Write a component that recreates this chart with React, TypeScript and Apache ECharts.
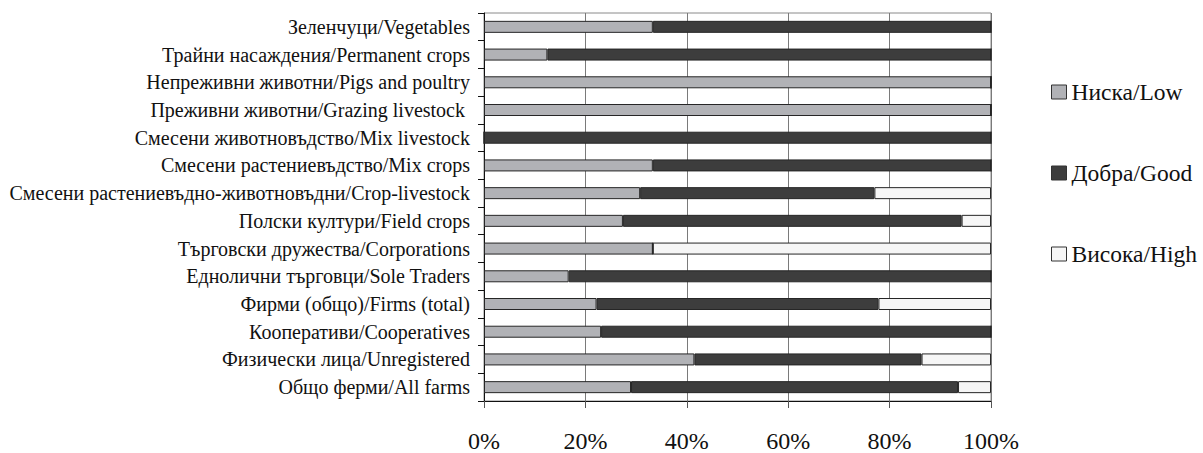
import React, { useEffect, useRef } from "react";
import * as echarts from "echarts";

const categories = [
  "Зеленчуци/Vegetables",
  "Трайни насаждения/Permanent crops",
  "Непреживни животни/Pigs and poultry",
  "Преживни животни/Grazing livestock\u00a0",
  "Смесени животновъдство/Mix livestock",
  "Смесени растениевъдство/Mix crops",
  "Смесени растениевъдно-животновъдни/Crop-livestock",
  "Полски култури/Field crops",
  "Търговски дружества/Corporations",
  "Еднолични търговци/Sole Traders",
  "Фирми (общо)/Firms (total)",
  "Кооперативи/Cooperatives",
  "Физически лица/Unregistered",
  "Общо ферми/All farms",
];

const lowValues = [33.3, 12.5, 100, 100, 0, 33.3, 30.8, 27.4, 33.3, 16.7, 22.2, 23.1, 41.5, 29.0];
const goodValues = [66.7, 87.5, 0, 0, 100, 66.7, 46.2, 66.8, 0, 83.3, 55.6, 76.9, 44.8, 64.5];
const highValues = [0, 0, 0, 0, 0, 0, 23.0, 5.8, 66.7, 0, 22.2, 0, 13.7, 6.5];

const seriesNames = ["Ниска/Low", "Добра/Good", "Висока/High"];
const seriesColors = ["#b1b2b6", "#3d3d3d", "#f6f6f6"];

const FONT = "'Liberation Serif', 'Times New Roman', serif";

export default function App() {
  const ref = useRef<HTMLDivElement>(null);

  useEffect(() => {
    if (!ref.current) return;
    const chart = echarts.init(ref.current, null, { renderer: "svg" });
    const values = [lowValues, goodValues, highValues];
    chart.setOption({
      animation: false,
      backgroundColor: "#ffffff",
      textStyle: { fontFamily: FONT },
      grid: {
        left: 484,
        right: 212,
        top: 13,
        bottom: 50,
        show: true,
        borderColor: "#8a8a8a",
        borderWidth: 1,
        containLabel: false,
      },
      legend: {
        orient: "vertical",
        left: 1051,
        top: 80,
        padding: 0,
        itemWidth: 15,
        itemHeight: 14,
        itemGap: 57,
        icon: "rect",
        textStyle: { fontFamily: FONT, fontSize: 23.5, color: "#111" },
        data: seriesNames.map((n, i) => ({
          name: n,
          itemStyle: { color: seriesColors[i], borderColor: "#333", borderWidth: 1 },
        })),
      },
      xAxis: {
        type: "value",
        min: 0,
        max: 100,
        interval: 20,
        axisLine: { show: true, lineStyle: { color: "#111", width: 1 } },
        axisTick: { show: true, length: 7, lineStyle: { color: "#555" } },
        axisLabel: {
          formatter: "{value}%",
          fontFamily: FONT,
          fontSize: 24,
          color: "#111",
          margin: 28,
        },
        splitLine: { show: true, lineStyle: { color: "#7a7a7a", width: 1 } },
      },
      yAxis: {
        type: "category",
        inverse: true,
        data: categories,
        axisLine: { show: true, lineStyle: { color: "#111", width: 1 } },
        axisTick: { show: true, length: 6, lineStyle: { color: "#111" } },
        axisLabel: {
          fontFamily: FONT,
          fontSize: 20,
          color: "#111",
          margin: 14,
        },
        splitLine: { show: false },
      },
      series: seriesNames.map((n, i) => ({
        name: n,
        type: "bar",
        stack: "total",
        barWidth: 12,
        data: values[i],
        itemStyle: { color: seriesColors[i], borderColor: "#262626", borderWidth: 1 },
      })),
    });
    return () => chart.dispose();
  }, []);

  return (
    <div
      ref={ref}
      style={{ position: "absolute", left: 0, top: 0, width: 1203, height: 453 }}
    />
  );
}
